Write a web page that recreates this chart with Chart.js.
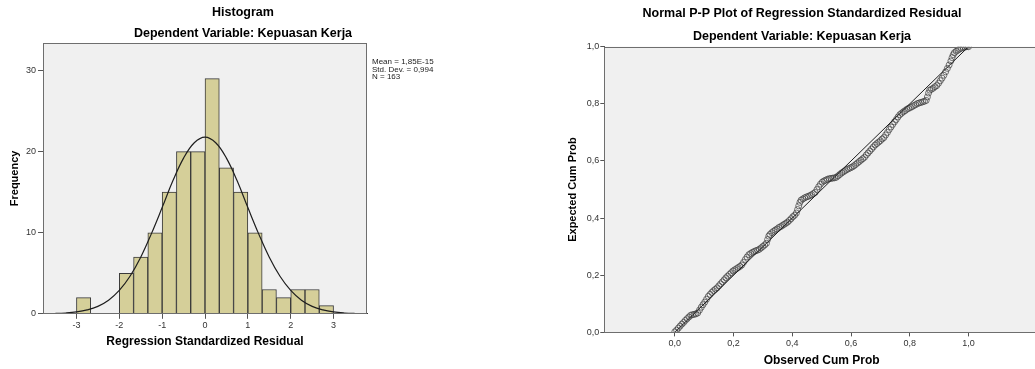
<!DOCTYPE html>
<html>
<head>
<meta charset="utf-8">
<script src="https://cdn.jsdelivr.net/npm/chart.js@4"></script>
<style>
  html, body { margin: 0; padding: 0; background: #fff; overflow: hidden; }
  #wrap { position: relative; width: 1035px; height: 369px; overflow: hidden; }
  #histChart { position: absolute; left: 0; top: 0; }
  #ppChart { position: absolute; left: 560px; top: 0; }
</style>
</head>
<body>
<div id="wrap">
  <canvas id="histChart" width="486" height="369"></canvas>
  <canvas id="ppChart" width="484" height="369"></canvas>
</div>
<script>
/** Histogram data (bin centres, width 1/3) **/
const binCenters = [-2.833, -2.5, -2.167, -1.833, -1.5, -1.167, -0.833, -0.5, -0.167,
  0.167, 0.5, 0.833, 1.167, 1.5, 1.833, 2.167, 2.5, 2.833];
const binCounts = [2, 0, 0, 5, 7, 10, 15, 20, 20, 29, 18, 15, 10, 3, 2, 3, 3, 1];

//  Normal curve
const curveX = [-3.75, -3.5, -3.25, -3, -2.75, -2.5, -2.25, -2, -1.75, -1.5, -1.25, -1, -0.75, -0.5, -0.25,
  0, 0.25, 0.5, 0.75, 1, 1.25, 1.5, 1.75, 2, 2.25, 2.5, 2.75, 3, 3.25, 3.5, 3.75];
const curveY = [0.02, 0.04, 0.1, 0.23, 0.48, 0.92, 1.68, 2.88, 4.63, 6.98, 9.89, 13.1, 16.4, 19.2, 21.1,
  21.8, 21.1, 19.2, 16.4, 13.1, 9.89, 6.98, 4.63, 2.88, 1.68, 0.92, 0.48, 0.23, 0.1, 0.04, 0.02];

const histXTicks = [-3, -2, -1, 0, 1, 2, 3];
const histYTicks = [0, 10, 20, 30];
const statsLines = ["Mean = 1,85E-15", "Std. Dev. = 0,994", "N = 163"];

/** P-P plot data **/
const ppObserved = [0.000,0.006,0.012,0.018,0.024,0.030,0.036,0.042,0.048,0.054,0.060,0.066,0.072,0.078,0.084,0.090,0.096,
  0.102,0.108,0.114,0.120,0.126,0.132,0.138,0.144,0.150,0.156,0.162,0.168,0.174,0.180,0.186,0.192,0.198,0.204,0.210,0.216,
  0.222,0.228,0.234,0.240,0.246,0.252,0.258,0.264,0.270,0.276,0.282,0.288,0.294,0.300,0.306,0.312,0.316,0.320,0.324,0.330,
  0.336,0.342,0.348,0.354,0.360,0.366,0.372,0.378,0.384,0.390,0.396,0.402,0.408,0.414,0.418,0.422,0.426,0.430,0.436,0.442,
  0.448,0.454,0.460,0.466,0.472,0.478,0.484,0.490,0.496,0.502,0.508,0.514,0.520,0.526,0.532,0.538,0.544,0.550,0.556,0.562,
  0.568,0.574,0.580,0.586,0.592,0.598,0.604,0.610,0.616,0.622,0.628,0.634,0.640,0.646,0.652,0.658,0.664,0.670,0.676,0.682,
  0.688,0.694,0.700,0.706,0.712,0.718,0.724,0.730,0.736,0.742,0.748,0.754,0.760,0.766,0.772,0.778,0.784,0.790,0.796,0.802,
  0.808,0.814,0.820,0.826,0.832,0.838,0.844,0.850,0.856,0.860,0.864,0.868,0.874,0.880,0.886,0.892,0.898,0.904,0.910,0.916,
  0.922,0.928,0.934,0.940,0.944,0.948,0.952,0.958,0.964,0.970,0.976,0.982,0.988,0.994,1.000];
const ppExpected = [0.002,0.008,0.015,0.022,0.029,0.035,0.042,0.048,0.054,0.060,0.062,0.063,0.065,0.068,0.078,0.088,0.097,
  0.106,0.116,0.126,0.133,0.140,0.146,0.151,0.156,0.163,0.170,0.177,0.184,0.191,0.197,0.203,0.209,0.215,0.219,0.223,0.227,
  0.231,0.236,0.245,0.255,0.264,0.272,0.276,0.280,0.283,0.286,0.288,0.291,0.296,0.301,0.306,0.312,0.325,0.337,0.343,0.349,
  0.354,0.358,0.362,0.367,0.370,0.374,0.378,0.382,0.386,0.392,0.398,0.405,0.410,0.418,0.430,0.443,0.455,0.463,0.467,0.471,
  0.474,0.476,0.479,0.482,0.486,0.490,0.500,0.510,0.519,0.526,0.530,0.533,0.536,0.538,0.539,0.540,0.541,0.543,0.548,0.553,
  0.558,0.562,0.566,0.570,0.573,0.576,0.579,0.583,0.588,0.593,0.598,0.603,0.608,0.613,0.621,0.628,0.635,0.642,0.649,0.656,
  0.661,0.666,0.671,0.677,0.682,0.691,0.700,0.710,0.719,0.728,0.737,0.745,0.754,0.762,0.767,0.772,0.776,0.781,0.784,0.787,
  0.790,0.794,0.797,0.801,0.803,0.805,0.807,0.809,0.812,0.824,0.838,0.848,0.851,0.855,0.860,0.864,0.872,0.881,0.890,0.900,
  0.912,0.924,0.936,0.950,0.962,0.972,0.979,0.984,0.988,0.992,0.995,0.997,0.999,1.000,1.000];
const ppLineX = [0, 1];
const ppLineY = [0, 1];
const ppTicks = [0, 0.2, 0.4, 0.6, 0.8, 1.0];
const ppTickLabels = ["0,0", "0,2", "0,4", "0,6", "0,8", "1,0"];

const FONT = "'Liberation Sans', Arial, sans-serif";

/** Plugin: grey plot background and frame **/
const plotFrame = {
  id: "plotFrame",
  beforeDatasetsDraw(chart) {
    const { ctx, chartArea: a } = chart;
    ctx.save();
    ctx.fillStyle = "#f0f0f0";
    ctx.fillRect(a.left, a.top, a.width, a.height);
    ctx.restore();
  },
  afterDraw(chart) {
    const { ctx, chartArea: a } = chart;
    ctx.save();
    ctx.strokeStyle = "#6e6e6e";
    ctx.lineWidth = 1;
    ctx.strokeRect(Math.round(a.left) + 0.5, Math.round(a.top) + 0.5, Math.round(a.width) - 1, Math.round(a.height) - 1);
    ctx.restore();
  },
};

/** Plugin: statistics text next to the histogram **/
const statsText = {
  id: "statsText",
  afterDraw(chart) {
    const { ctx, chartArea: a } = chart;
    ctx.save();
    ctx.font = "8px " + FONT;
    ctx.fillStyle = "#222";
    ctx.textBaseline = "middle";
    statsLines.forEach((line, i) => ctx.fillText(line, a.right + 5, 62 + i * 7.5));
    ctx.restore();
  },
};

function tickGrid(len) {
  return { drawOnChartArea: false, drawTicks: true, tickLength: len, color: "#555", offset: false };
}

/** Histogram **/
new Chart(document.getElementById("histChart"), {
  type: "bar",
  data: {
    datasets: [
      {
        type: "line",
        data: curveX.map((x, i) => ({ x: x, y: curveY[i] })),
        borderColor: "#1e1e1e",
        borderWidth: 1.2,
        pointRadius: 0,
        tension: 0.4,
        order: 0,
      },
      {
        type: "bar",
        data: binCenters.map((x, i) => ({ x: x, y: binCounts[i] })),
        backgroundColor: "#d5cf99",
        borderColor: "#3a3a3a",
        borderWidth: 1,
        barPercentage: 1,
        categoryPercentage: 1,
        order: 1,
      },
    ],
  },
  options: {
    responsive: false,
    animation: false,
    devicePixelRatio: 1,
    layout: { padding: { left: 0, right: 0, top: 0, bottom: 18 } },
    plugins: {
      legend: { display: false },
      tooltip: { enabled: false },
      title: {
        display: true,
        text: "Histogram",
        color: "#000",
        font: { family: FONT, size: 12.5, weight: "bold" },
        padding: { top: 5.5, bottom: 2 },
      },
      subtitle: {
        display: true,
        text: "Dependent Variable: Kepuasan Kerja",
        color: "#000",
        font: { family: FONT, size: 12.5, weight: "bold" },
        padding: { top: 4, bottom: 1.5 },
      },
    },
    scales: {
      x: {
        type: "linear",
        min: -3.78,
        max: 3.78,
        offset: false,
        afterBuildTicks: (axis) => { axis.ticks = histXTicks.map((v) => ({ value: v })); },
        grid: tickGrid(5),
        border: { display: true, color: "#333" },
        ticks: { color: "#333", padding: 1, font: { family: FONT, size: 9 } },
        title: {
          display: true,
          text: "Regression Standardized Residual",
          color: "#000",
          font: { family: FONT, size: 12, weight: "bold" },
          padding: { top: 3, bottom: 2 },
        },
      },
      y: {
        min: 0,
        max: 33.4,
        afterBuildTicks: (axis) => { axis.ticks = histYTicks.map((v) => ({ value: v })); },
        afterFit: (axis) => { axis.width = 43; },
        grid: tickGrid(5),
        border: { display: true, color: "#333" },
        ticks: { color: "#333", padding: 2, font: { family: FONT, size: 9 } },
        title: {
          display: true,
          text: "Frequency",
          color: "#000",
          font: { family: FONT, size: 11, weight: "bold" },
          padding: { top: 8.4, bottom: 2 },
        },
      },
      //  Empty scale that keeps room for the statistics text
      side: {
        position: "right",
        afterFit: (axis) => { axis.width = 119; },
        grid: { display: false },
        border: { display: false },
        ticks: { display: false },
      },
    },
  },
  plugins: [plotFrame, statsText],
});

/** Normal P-P plot **/
new Chart(document.getElementById("ppChart"), {
  type: "scatter",
  data: {
    datasets: [
      {
        data: ppLineX.map((x, i) => ({ x: x, y: ppLineY[i] })),
        showLine: true,
        borderColor: "#1e1e1e",
        borderWidth: 1,
        pointRadius: 0,
        order: 0,
      },
      {
        data: ppObserved.map((x, i) => ({ x: x, y: ppExpected[i] })),
        pointStyle: "circle",
        pointRadius: 3,
        pointBorderWidth: 1,
        pointBorderColor: "rgba(60,60,60,0.7)",
        pointBackgroundColor: "rgba(0,0,0,0)",
        order: 1,
      },
    ],
  },
  options: {
    responsive: false,
    animation: false,
    devicePixelRatio: 1,
    layout: { padding: { left: 2, right: 2, top: 0, bottom: 0 } },
    plugins: {
      legend: { display: false },
      tooltip: { enabled: false },
      title: {
        display: true,
        text: "Normal P-P Plot of Regression Standardized Residual",
        color: "#000",
        font: { family: FONT, size: 12.5, weight: "bold" },
        padding: { top: 6.5, bottom: 2 },
      },
      subtitle: {
        display: true,
        text: "Dependent Variable: Kepuasan Kerja",
        color: "#000",
        font: { family: FONT, size: 12.5, weight: "bold" },
        padding: { top: 5.7, bottom: 2.5 },
      },
    },
    scales: {
      x: {
        type: "linear",
        min: -0.24,
        max: 1.24,
        afterBuildTicks: (axis) => { axis.ticks = ppTicks.map((v) => ({ value: v })); },
        grid: tickGrid(4),
        border: { display: true, color: "#333" },
        ticks: {
          color: "#333",
          padding: 1.6,
          font: { family: FONT, size: 9 },
          callback: (v, i) => ppTickLabels[i],
        },
        title: {
          display: true,
          text: "Observed Cum Prob",
          color: "#000",
          font: { family: FONT, size: 12, weight: "bold" },
          padding: { top: 2.7, bottom: 1.5 },
        },
      },
      y: {
        min: 0,
        max: 1,
        afterBuildTicks: (axis) => { axis.ticks = ppTicks.map((v) => ({ value: v })); },
        grid: tickGrid(4),
        border: { display: true, color: "#333" },
        ticks: {
          color: "#333",
          padding: 1,
          font: { family: FONT, size: 9 },
          callback: (v, i) => ppTickLabels[i],
        },
        title: {
          display: true,
          text: "Expected Cum Prob",
          color: "#000",
          font: { family: FONT, size: 11, weight: "bold" },
          padding: { top: 4.7, bottom: 5.9 },
        },
      },
    },
  },
  plugins: [plotFrame],
});
</script>
</body>
</html>
